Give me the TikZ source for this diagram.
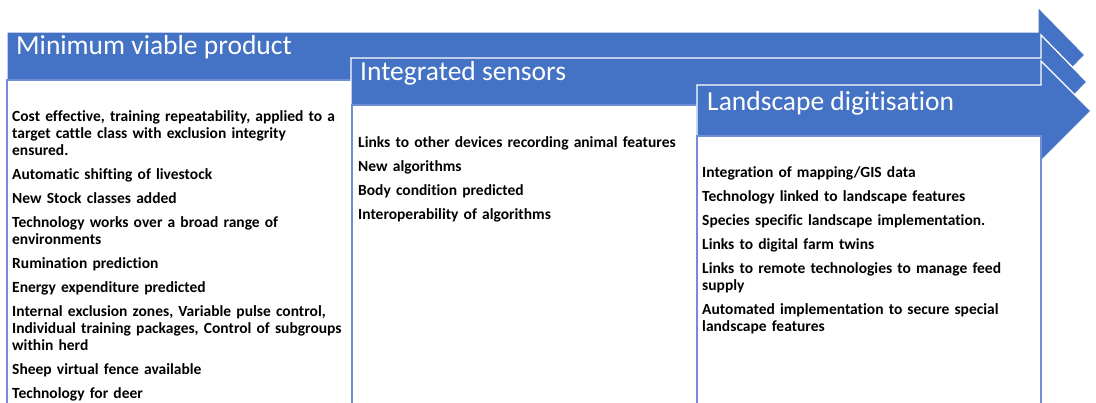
\documentclass[tikz,border=0pt]{standalone}
\usepackage{fontspec}
\setmainfont{Carlito}[Ligatures={NoCommon}]
\definecolor{officeblue}{HTML}{4472C4}
\definecolor{boxline}{HTML}{6E8FD6}

\begin{document}
\begin{tikzpicture}[x=1pt,y=-1pt,
  stage/.style={fill=officeblue, draw=white, line width=1.3pt, line join=miter},
  listbox/.style={fill=white, draw=boxline, line width=1.6pt},
  stagetitle/.style={anchor=base west, inner sep=0pt, text=white, font=\fontsize{27.5}{30}\selectfont},
  stagelist/.style={anchor=base west, inner sep=0pt, text width=340pt, align=left, font=\bfseries\fontsize{15.5}{17}\selectfont}]
\clip (0,0) rectangle (1096,402);
\fill [white] (0,0) rectangle (1096,402);
% stage 1
\draw [stage] (7,32) -- (1038,32) -- (1038,7) -- (1085,55) -- (1038,103) -- (1038,80) -- (7,80) -- cycle;
\draw [listbox] (7,80) rectangle (352,420);
\node [stagetitle] (mvp) at (16,54) {Minimum viable product};
\node [stagelist] (mvplist) at (12,121) {Cost effective, training repeatability, applied to a\\
target cattle class with exclusion integrity\\ ensured.\\[7pt]
Automatic shifting of livestock\\[7pt]
New Stock classes added\\[7pt]
Technology works over a broad range of\\ environments\\[7pt]
Rumination prediction\\[7pt]
Energy expenditure predicted\\[7pt]
Internal exclusion zones, Variable pulse control,\\
Individual training packages, Control of subgroups\\ within herd\\[7pt]
Sheep virtual fence available\\[7pt]
Technology for deer};
% stage 2
\draw [stage] (351,58) -- (1041,58) -- (1041,35) -- (1087,82) -- (1041,129) -- (1041,105) -- (351,105) -- cycle;
\draw [listbox] (352,105) rectangle (697,420);
\node [stagetitle] (sensors) at (360,80) {Integrated sensors};
\node [stagelist] (sensorslist) at (358,147) {Links to other devices recording animal features\\[7pt]
New algorithms\\[7pt]
Body condition predicted\\[7pt]
Interoperability of algorithms};
% stage 3
\draw [stage] (697,85) -- (1041,85) -- (1041,61) -- (1091,111) -- (1041,161) -- (1041,136) -- (697,136) -- cycle;
\draw [listbox] (697,136) rectangle (1041,420);
\node [stagetitle] (landscape) at (707,110) {Landscape digitisation};
\node [stagelist] (landscapelist) at (702,177) {Integration of mapping/GIS data\\[7pt]
Technology linked to landscape features\\[7pt]
Species specific landscape implementation.\\[7pt]
Links to digital farm twins\\[7pt]
Links to remote technologies to manage feed\\ supply\\[7pt]
Automated implementation to secure special\\ landscape features};
\end{tikzpicture}
\end{document}
